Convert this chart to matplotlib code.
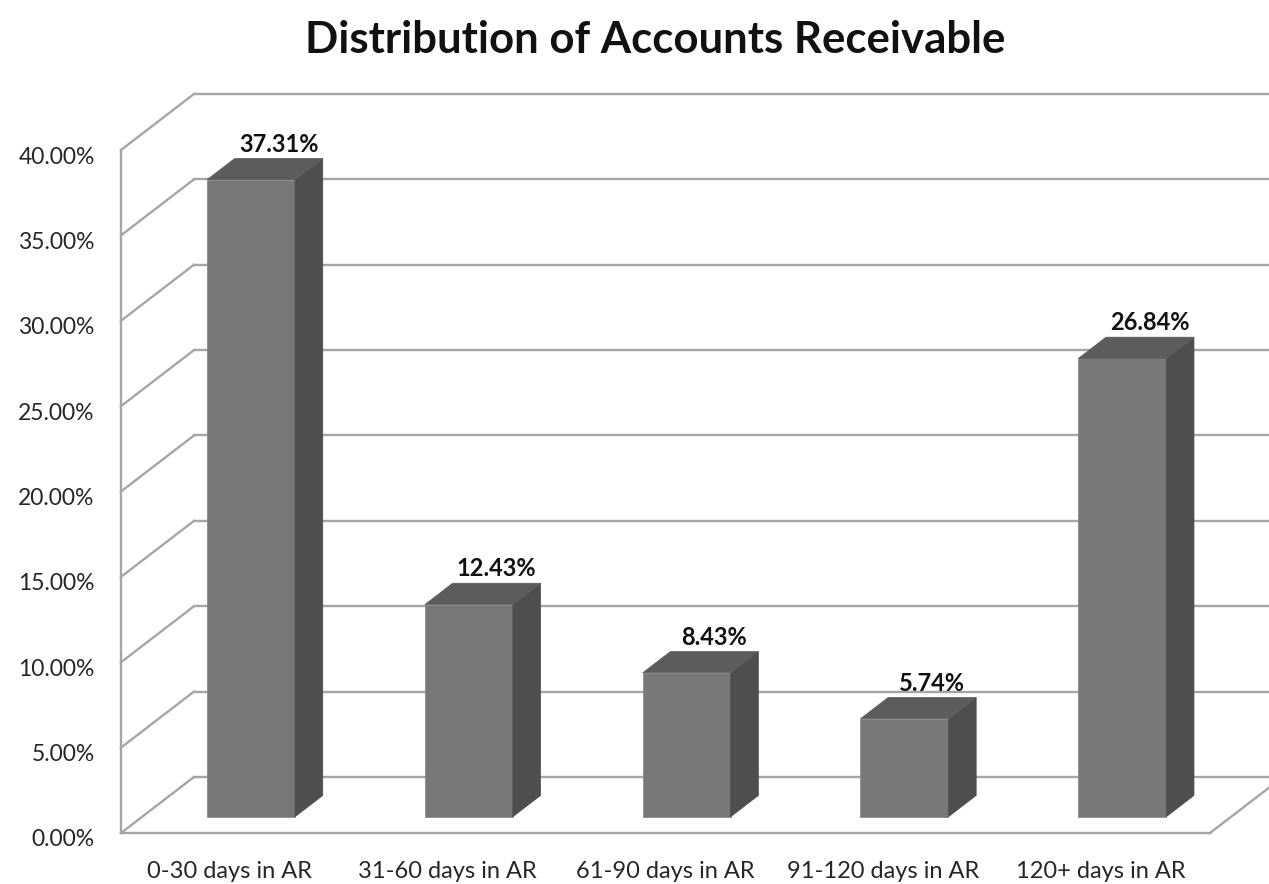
import matplotlib
matplotlib.use("Agg")
import matplotlib.pyplot as plt
from matplotlib.patches import Polygon
from matplotlib.transforms import ScaledTranslation

plt.rcParams['font.family'] = ['Lato', 'DejaVu Sans']

# ---- data ----
categories = ["0-30 days in AR", "31-60 days in AR", "61-90 days in AR",
              "91-120 days in AR", "120+ days in AR"]
values = [37.31, 12.43, 8.43, 5.74, 26.84]
yticks = [0, 5, 10, 15, 20, 25, 30, 35, 40]
title = "Distribution of Accounts Receivable"

# ---- 3D-look geometry (style) ----
W, H = 1269, 884
DX, DY = 0.335, 3.28          # full wall depth in data units
F_FRONT = 0.29                # bar front face depth fraction
F_DEPTH = 0.38                # bar depth fraction
BAR_W = 0.404
GRID_C = '#a6a6a6'
FRONT_C = '#787878'
SIDE_C = '#4e4e4e'
TOP_C = '#5c5c5c'
TXT_C = '#262626'

fig = plt.figure(figsize=(W / 100, H / 100), dpi=100)
ax = fig.add_axes([121 / W, (H - 833) / H, (1210 - 121) / W, (833 - 150) / H])
ax.set_xlim(-0.5, len(categories) - 0.5)
ax.set_ylim(0, 40)
for s in ax.spines.values():
    s.set_visible(False)
ax.patch.set_visible(False)

x0, x1 = -0.5, len(categories) - 0.5
# left wall diagonals and back wall grid
for t in yticks:
    ax.plot([x0, x0 + DX], [t, t + DY], color=GRID_C, lw=1.7, clip_on=False, zorder=1)
    ax.plot([x0 + DX, x1 + DX + 1], [t + DY, t + DY], color=GRID_C, lw=1.7,
            clip_on=False, zorder=1)
# front axis line and floor edges
ax.plot([x0, x0], [0, 40], color=GRID_C, lw=1.7, clip_on=False, zorder=1)
ax.plot([x0, x1], [0, 0], color=GRID_C, lw=1.7, clip_on=False, zorder=1)
ax.plot([x1, x1 + DX], [0, DY], color=GRID_C, lw=1.7, clip_on=False, zorder=1)

# bars
xs = list(range(len(categories)))
fx = [x + F_FRONT * DX for x in xs]
fb = F_FRONT * DY
ax.bar(fx, values, width=BAR_W, bottom=fb, color=FRONT_C, zorder=3,
       edgecolor='#8a8a8a', linewidth=0.6)
ddx, ddy = F_DEPTH * DX, F_DEPTH * DY
for c, v in zip(fx, values):
    L, R = c - BAR_W / 2, c + BAR_W / 2
    top = fb + v
    side = Polygon([(R, fb), (R + ddx, fb + ddy), (R + ddx, top + ddy), (R, top)],
                   closed=True, facecolor=SIDE_C, edgecolor=SIDE_C, lw=0.5,
                   zorder=3, clip_on=False)
    topf = Polygon([(L, top), (R, top), (R + ddx, top + ddy), (L + ddx, top + ddy)],
                   closed=True, facecolor=TOP_C, edgecolor=TOP_C, lw=0.5,
                   zorder=3, clip_on=False)
    ax.add_patch(side)
    ax.add_patch(topf)
    ax.annotate(f"{v:.2f}%", xy=(c + ddx, top + ddy), xytext=(0, 2),
                textcoords='offset points', ha='center', va='bottom',
                fontsize=17, fontweight='bold', color='#111111', zorder=5,
                annotation_clip=False)

# ticks
ax.set_yticks(yticks)
ax.set_yticklabels([f"{t:.2f}%" for t in yticks], fontsize=16.5, color=TXT_C)
ax.set_xticks(xs)
ax.set_xticklabels(categories, fontsize=17, color=TXT_C)
ax.tick_params(axis='y', length=0, pad=19)
ax.tick_params(axis='x', length=0, pad=20)
off = ScaledTranslation(0, -5 / 100, fig.dpi_scale_trans)
for lab in ax.get_yticklabels():
    lab.set_transform(lab.get_transform() + off)

fig.text(655 / W, (H - 40) / H, title, ha='center', va='center', fontsize=31.5,
         fontweight='bold', color='#111111')

fig.savefig("out.png", dpi=100, facecolor='white')
